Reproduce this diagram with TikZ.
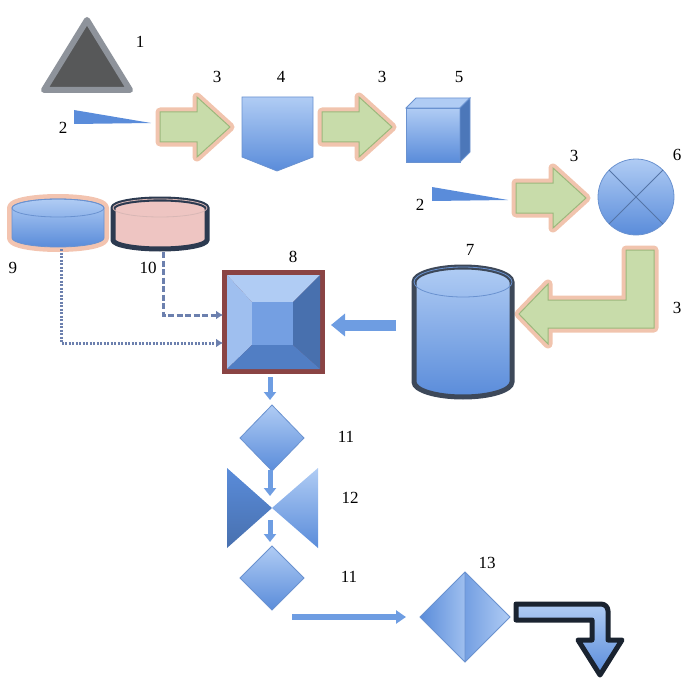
\documentclass[tikz,border=0pt]{standalone}
\usepackage{fontspec}
\setmainfont{Liberation Serif}
\usetikzlibrary{arrows.meta}
\definecolor{bluetop}{HTML}{B0CCF4}
\definecolor{bluebot}{HTML}{5A8CDA}
\definecolor{blueline}{HTML}{6A92D0}
\definecolor{bluearrow}{HTML}{6E9DE2}
\definecolor{greenfill}{HTML}{C8DCAA}
\definecolor{greenline}{HTML}{9CB87C}
\definecolor{salmon}{HTML}{F1C4AE}
\definecolor{pinkfill}{HTML}{EEC5C2}
\definecolor{navyline}{HTML}{2C3A50}
\definecolor{triline}{HTML}{8E939B}
\definecolor{trifill}{HTML}{575859}
\definecolor{brownline}{HTML}{8A4444}
\definecolor{linkline}{HTML}{6C80AE}
\tikzset{
  garrow/.pic={
    \draw[line width=9pt, salmon, line join=round]
      (0,15) -- (37,15) -- (37,0) -- (70,30) -- (37,60) -- (37,45) -- (0,45) -- cycle;
    \filldraw[fill=greenfill, draw=greenline, line width=1pt]
      (0,15) -- (37,15) -- (37,0) -- (70,30) -- (37,60) -- (37,45) -- (0,45) -- cycle;
  }
}

\begin{document}
\begin{tikzpicture}[x=1pt, y=-1pt,
  lbl/.style={font=\fontsize{17}{19}\selectfont, inner sep=0pt},
  bluebody/.style={top color=bluetop, bottom color=bluebot, draw=blueline, line width=0.8pt},
  flowarrow/.style={bluearrow, line width=5pt, -{Triangle[width=12pt, length=8pt]}},
  dotline/.style={linkline, line width=3pt, dash pattern=on 2pt off 1.5pt, -{Latex[length=7pt, width=9pt]}},
  dashline/.style={linkline, line width=3pt, dash pattern=on 6pt off 2.5pt, -{Latex[length=7pt, width=9pt]}}]
\useasboundingbox (0,0) rectangle (689,685);

% 1
\filldraw[fill=trifill, draw=triline, line width=6pt, line join=round] (87,20) -- (130,90) -- (44,90) -- cycle;
\node[lbl] (l1) at (140,42) {1};

% 2, 3, 4
\fill[bluebot] (74,110) -- (151,123) -- (74,124) -- cycle;
\node[lbl] (l2a) at (63,128) {2};
\pic at (160,97) {garrow};
\node[lbl] (l3a) at (217,77) {3};
\draw[bluebody] (242,97) -- (313,97) -- (313,157) -- (277,171) -- (242,157) -- cycle;
\node[lbl] (l4) at (281,77) {4};

% 3, 5
\pic at (322,97) {garrow};
\node[lbl] (l3b) at (382,77) {3};
\draw[bluebody] (406,108) rectangle (460,162);
\filldraw[fill=bluetop, draw=blueline, line width=0.8pt] (406,108) -- (416,98) -- (470,98) -- (460,108) -- cycle;
\filldraw[fill=bluebot!85!black, draw=blueline, line width=0.8pt] (460,108) -- (470,98) -- (470,152) -- (460,162) -- cycle;
\node[lbl] (l5) at (459,77) {5};

% 2, 3, 6
\fill[bluebot] (432,187) -- (508,200) -- (432,201) -- cycle;
\node[lbl] (l2b) at (420,205) {2};
\pic at (516,168) {garrow};
\node[lbl] (l3c) at (574,156) {3};
\draw[bluebody] (636,197) circle (38pt);
\draw[blueline!80!black, line width=0.8pt] (636,197) ++(45:38pt) -- ++(225:76pt);
\draw[blueline!80!black, line width=0.8pt] (636,197) ++(135:38pt) -- ++(315:76pt);
\node[lbl] (l6) at (677,155) {6};

% L arrow 6 -> 7
\draw[line width=9pt, salmon, line join=round]
  (654,250) -- (654,328) -- (548,328) -- (548,344) -- (519,314) -- (548,284) -- (548,300) -- (626,300) -- (626,250) -- cycle;
\filldraw[fill=greenfill, draw=greenline, line width=1pt]
  (654,250) -- (654,328) -- (548,328) -- (548,344) -- (519,314) -- (548,284) -- (548,300) -- (626,300) -- (626,250) -- cycle;
\node[lbl] (l3d) at (677,308) {3};

% 7
\draw[top color=bluetop, bottom color=bluebot, draw=navyline!80!gray, line width=5pt]
  (414,282) -- (414,382) arc[start angle=180, end angle=360, x radius=49pt, y radius=15pt]
  -- (512,282) arc[start angle=0, end angle=180, x radius=49pt, y radius=15pt] -- cycle;
\draw[blueline, line width=0.8pt] (463,282) ellipse[x radius=49pt, y radius=15pt];
\node[lbl] (l7) at (470,250) {7};
\coordinate (out7) at (396,325);
\coordinate (in8r) at (331,325);
\draw[bluearrow, line width=11pt, -{Triangle[width=22pt, length=14pt]}] (out7) -- (in8r);

% 8
\fill[brownline] (222,270) rectangle (325,374);
\fill[bluetop] (227,275) -- (320,275) -- (293,302) -- (252,302) -- cycle;
\fill[bluetop!80!bluebot] (227,275) -- (252,302) -- (252,345) -- (227,369) -- cycle;
\fill[bluebot!80!black] (320,275) -- (320,369) -- (293,345) -- (293,302) -- cycle;
\fill[bluebot!90!black] (227,369) -- (252,345) -- (293,345) -- (320,369) -- cycle;
\fill[bluebot!70!bluetop] (252,302) rectangle (293,345);
\node[lbl] (l8) at (293,257) {8};

% 9, 10
\draw[salmon!90!pink, line width=10pt, line join=round]
  (12,208) -- (12,238) arc[start angle=180, end angle=360, x radius=46pt, y radius=9pt]
  -- (104,208) arc[start angle=0, end angle=180, x radius=46pt, y radius=9pt] -- cycle;
\draw[top color=bluetop, bottom color=bluebot, draw=blueline, line width=0.8pt]
  (12,208) -- (12,238) arc[start angle=180, end angle=360, x radius=46pt, y radius=9pt]
  -- (104,208) arc[start angle=0, end angle=180, x radius=46pt, y radius=9pt] -- cycle;
\draw[blueline, line width=0.8pt] (58,208) ellipse[x radius=46pt, y radius=9pt];
\node[lbl] (l9) at (13,268) {9};
\filldraw[fill=pinkfill, draw=navyline, line width=5pt]
  (113,208) -- (113,240) arc[start angle=180, end angle=360, x radius=47pt, y radius=9pt]
  -- (207,208) arc[start angle=0, end angle=180, x radius=47pt, y radius=9pt] -- cycle;
\draw[pinkfill!80!gray, line width=0.8pt] (160,208) ellipse[x radius=47pt, y radius=9pt];
\node[lbl] (l10) at (148,268) {10};
\coordinate (out9) at (61,249);
\coordinate (out10) at (163,252);
\coordinate (in8a) at (223,343);
\coordinate (in8b) at (223,315);
\draw[dotline] (out9) |- (in8a);
\draw[dashline] (out10) |- (in8b);

% 11, 12, 11
\coordinate (out8) at (270,377);
\coordinate (in11a) at (270,400);
\draw[flowarrow] (out8) -- (in11a);
\draw[bluebody] (272,405) -- (304,438) -- (272,471) -- (240,438) -- cycle;
\node[lbl] (l11a) at (346,437) {11};
\draw[top color=bluebot, bottom color=bluebot!80!black, draw=none] (227,468) -- (272,508) -- (227,548) -- cycle;
\draw[top color=bluetop, bottom color=bluebot, draw=none] (318,468) -- (272,508) -- (318,548) -- cycle;
\node[lbl] (l12) at (350,498) {12};
\coordinate (in12) at (270,496);
\coordinate (out12) at (270,520);
\coordinate (in11b) at (270,542);
\draw[flowarrow] (270,470) -- (in12);
\draw[flowarrow] (out12) -- (in11b);
\draw[bluebody] (272,546) -- (304,578) -- (272,610) -- (240,578) -- cycle;
\node[lbl] (l11b) at (349,577) {11};

% 13
\coordinate (out11) at (292,617);
\coordinate (in13) at (406,617);
\draw[bluearrow, line width=6pt, -{Triangle[width=13pt, length=10pt]}] (out11) -- (in13);
\fill[left color=bluebot, right color=bluetop!80!bluebot] (465,572) -- (465,662) -- (420,617) -- cycle;
\fill[left color=bluebot!70!bluetop, right color=bluetop] (465,572) -- (510,617) -- (465,662) -- cycle;
\draw[blueline, line width=0.8pt] (465,572) -- (510,617) -- (465,662) -- (420,617) -- cycle (465,572) -- (465,662);
\node[lbl] (l13) at (487,563) {13};
\draw[top color=bluetop, bottom color=bluebot, draw=navyline!60!black, line width=5pt, line join=round]
  (516,604) [rounded corners=7pt] -- (608,604) [sharp corners] -- (608,640) -- (622,640) -- (600,675)
  -- (578,640) -- (592,640) -- (592,620) -- (516,620) -- cycle;
\end{tikzpicture}
\end{document}
